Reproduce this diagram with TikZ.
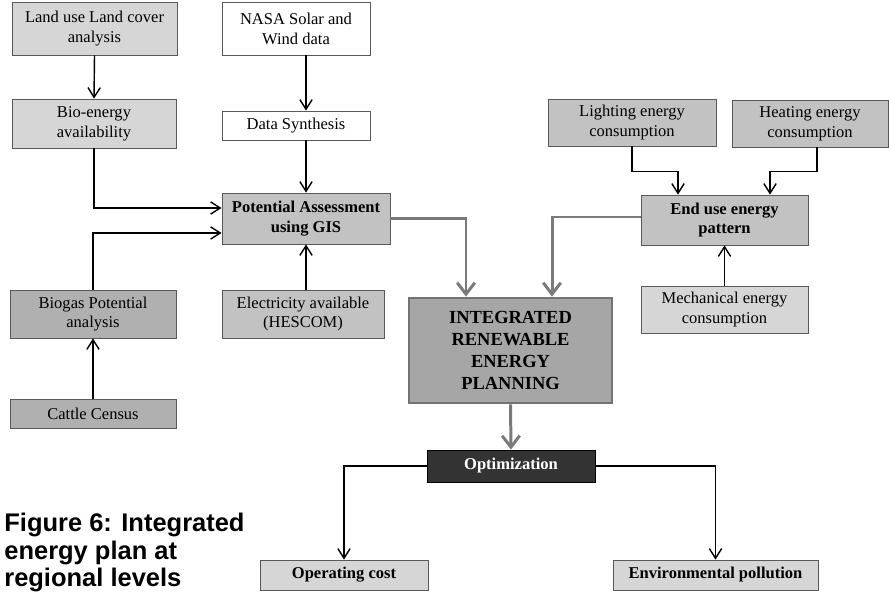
\documentclass[tikz,border=0pt]{standalone}
\usepackage{fontspec}
\setmainfont{Liberation Serif}
\newfontfamily\capfont{Liberation Sans}
\usetikzlibrary{arrows.meta, positioning}
\definecolor{lightfill}{HTML}{D6D6D6}
\definecolor{midfill}{HTML}{C2C2C2}
\definecolor{darkfill}{HTML}{B0B0B0}
\definecolor{plangray}{HTML}{A6A6A6}
\definecolor{optfill}{HTML}{333333}
\definecolor{linkgray}{HTML}{7A7A7A}
\tikzset{
	box/.style={draw=black!65, line width=0.5pt, align=center, inner sep=1pt, font=\fontsize{9.4}{11.3}\selectfont},
	lightbox/.style={box, fill=lightfill},
	midbox/.style={box, fill=midfill},
	darkbox/.style={box, fill=darkfill},
	whitebox/.style={box, fill=white},
	boldbox/.style={box, fill=midfill, font=\fontsize{9.4}{11.3}\selectfont\bfseries},
	arr/.style={draw=black, line width=0.8pt, -{Straight Barb[length=5.5pt,width=7pt]}},
	garr/.style={draw=linkgray, line width=1.7pt, -{Straight Barb[length=6.5pt,width=10pt]}}
}

\begin{document}
\begin{tikzpicture}
				\useasboundingbox (0,0) rectangle (17.78,-11.84);
				\node[lightbox, minimum width=3.30cm, minimum height=1.06cm] (landuse) at (1.89,-0.57) {Land use Land cover\\analysis};
				\node[whitebox, minimum width=2.96cm, minimum height=1.06cm] (nasa) at (5.92,-0.57) {NASA Solar and\\Wind data};
				\node[lightbox, minimum width=3.28cm, minimum height=0.98cm] (bio) at (1.88,-2.47) {Bio-energy\\availability};
				\node[whitebox, minimum width=2.96cm, minimum height=0.58cm] (synth) at (5.92,-2.51) {Data Synthesis};
				\node[boldbox, minimum width=3.36cm, minimum height=1.02cm] (gis) at (6.12,-4.37) {Potential Assessment\\using GIS};
				\node[darkbox, minimum width=3.32cm, minimum height=0.96cm] (biogas) at (1.86,-6.28) {Biogas Potential\\analysis};
				\node[darkbox, minimum width=3.32cm, minimum height=0.58cm] (cattle) at (1.86,-8.27) {Cattle Census};
				\node[midbox, minimum width=3.24cm, minimum height=0.96cm] (elec) at (6.06,-6.28) {Electricity available\\(HESCOM)};
				\node[box, fill=plangray, draw=black!55, line width=1.6pt, minimum width=4.06cm, minimum height=2.10cm, font=\fontsize{10.5}{12.5}\selectfont\bfseries] (irep) at (10.21,-7.01) {INTEGRATED\\RENEWABLE\\ENERGY\\PLANNING};
				\node[midbox, minimum width=3.36cm, minimum height=0.94cm] (light) at (12.64,-2.45) {Lighting energy\\consumption};
				\node[midbox, minimum width=3.12cm, minimum height=0.94cm] (heat) at (16.20,-2.47) {Heating energy\\consumption};
				\node[boldbox, minimum width=3.34cm, minimum height=1.00cm] (enduse) at (14.49,-4.40) {End use energy\\pattern};
				\node[lightbox, minimum width=3.34cm, minimum height=0.94cm] (mech) at (14.49,-6.19) {Mechanical energy\\consumption};
				\node[box, fill=optfill, draw=black, text=white, minimum width=3.36cm, minimum height=0.64cm, font=\fontsize{9.4}{11.3}\selectfont\bfseries] (optim) at (10.22,-9.32) {Optimization};
				\node[lightbox, minimum width=3.36cm, minimum height=0.60cm, font=\fontsize{9.4}{11.3}\selectfont\bfseries] (opcost) at (6.88,-11.50) {Operating cost};
				\node[lightbox, minimum width=4.10cm, minimum height=0.60cm, font=\fontsize{9.4}{11.3}\selectfont\bfseries] (envpol) at (14.31,-11.50) {Environmental pollution};
				\node[anchor=north west, inner sep=0pt, align=left, font=\capfont\fontsize{14.5}{15.5}\selectfont\bfseries] (caption) at (0.08,-10.26) {Figure 6: Integrated\\energy plan at\\regional levels};
				\draw[arr] (landuse.south) -- (bio.north);
				\draw[arr] (nasa.south -| gis.north) -- (synth.north -| gis.north);
				\draw[arr] (synth.south -| gis.north) -- (gis.north);
				\draw[arr] (bio.south) |- ([yshift=0.21cm]gis.west);
				\draw[arr] (biogas.north) |- ([yshift=-0.29cm]gis.west);
				\draw[arr] (cattle.north) -- (biogas.south);
				\draw[arr] (elec.north -| gis.south) -- (gis.south);
				\draw[arr] (light.south) -- ++(0,-0.5) -| ([xshift=-0.93cm]enduse.north);
				\draw[arr] ([xshift=0.14cm]heat.south) -- ++(0,-0.48) -| ([xshift=0.91cm]enduse.north);
				\draw[arr] (mech.north) -- (enduse.south);
				\draw[garr] (gis.east) -| ([xshift=-0.89cm]irep.north);
				\draw[garr] ([yshift=0.06cm]enduse.west) -| ([xshift=0.83cm]irep.north);
				\draw[garr] (irep.south) -- (optim.north);
				\draw[arr] (optim.west) -| (opcost.north);
				\draw[arr] (optim.east) -| (envpol.north);
\end{tikzpicture}
\end{document}
